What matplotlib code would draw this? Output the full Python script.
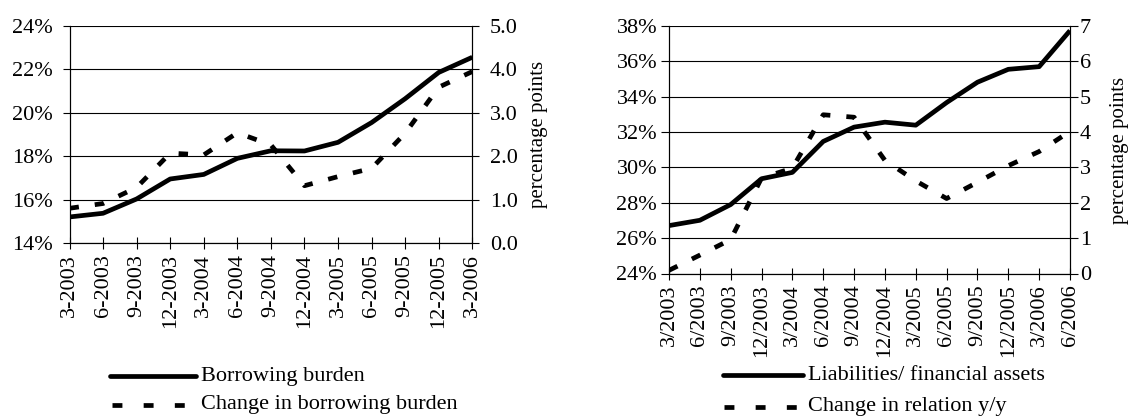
import matplotlib
matplotlib.use("Agg")
import matplotlib.pyplot as plt
from matplotlib.lines import Line2D
from matplotlib.ticker import FuncFormatter, MultipleLocator

plt.rcParams['font.family'] = ['Liberation Serif', 'DejaVu Serif']

# Left chart data
left_cats = ["3-2003", "6-2003", "9-2003", "12-2003", "3-2004", "6-2004", "9-2004",
             "12-2004", "3-2005", "6-2005", "9-2005", "12-2005", "3-2006"]
borrowing_burden = [15.2, 15.37, 16.03, 16.95, 17.16, 17.9, 18.25, 18.24, 18.64,
                    19.55, 20.65, 21.86, 22.56]
change_burden = [0.80, 0.91, 1.28, 2.07, 2.03, 2.54, 2.26, 1.32, 1.53, 1.72, 2.53,
                 3.59, 3.95]

# Right chart data
right_cats = ["3/2003", "6/2003", "9/2003", "12/2003", "3/2004", "6/2004", "9/2004",
              "12/2004", "3/2005", "6/2005", "9/2005", "12/2005", "3/2006", "6/2006"]
liab_assets = [26.71, 27.01, 27.9, 29.36, 29.72, 31.47, 32.28, 32.56, 32.39, 33.67,
               34.82, 35.55, 35.7, 37.74]
change_relation = [0.09, 0.52, 0.96, 2.7, 2.98, 4.49, 4.42, 3.2, 2.62, 2.12, 2.58,
                   3.05, 3.45, 4.02]

W, H = 1131, 418
fig = plt.figure(figsize=(W / 100, H / 100), dpi=100)

FS = 16
FS_LAB = 15
LW = 3.4
DASH = (0, (2.0, 3.4))
LEG_DASH = (0, (2.1, 4.5))


def box(x0, y0, x1, y1):
    return [x0 / W, 1 - y1 / H, (x1 - x0) / W, (y1 - y0) / H]


def setup(ax, ax2, cats, s1, s2, ylim1, ystep1, ylim2, ystep2, fmt2,
          padl, padr, tl):
    x = list(range(len(cats)))
    ax.set_xlim(0, len(cats) - 1)
    ax.set_ylim(*ylim1)
    ax.yaxis.set_major_locator(MultipleLocator(ystep1))
    ax.yaxis.set_major_formatter(FuncFormatter(lambda v, p: f"{v:.0f}%"))
    ax.grid(axis='y', color='black', linewidth=0.8)
    ax.set_axisbelow(True)
    ax.set_xticks(x)
    ax.set_xticklabels(cats, rotation=90, fontsize=FS)
    ax.tick_params(axis='x', direction='inout', length=8, width=0.8, pad=4)
    ax.tick_params(axis='y', direction='out', length=tl, width=0.8, labelsize=FS,
                   pad=padl)
    ax.spines['top'].set_visible(False)
    for s in ['left', 'bottom', 'right']:
        ax.spines[s].set_linewidth(0.8)
    ax.plot(x, s1, color='black', linewidth=LW, solid_capstyle='butt', zorder=3)
    ax2.set_ylim(*ylim2)
    ax2.yaxis.set_major_locator(MultipleLocator(ystep2))
    ax2.yaxis.set_major_formatter(FuncFormatter(fmt2))
    ax2.tick_params(axis='y', direction='out', length=tl, width=0.8, labelsize=FS,
                    pad=padr)
    ax2.spines['top'].set_visible(False)
    ax2.spines['right'].set_linewidth(0.8)
    ax2.plot(x, s2, color='black', linewidth=LW, linestyle=DASH,
             dash_capstyle='butt', zorder=3)


axL = fig.add_axes(box(69.5, 26, 472.3, 243))
axL2 = axL.twinx()
setup(axL, axL2, left_cats, borrowing_burden, change_burden,
      (14, 24), 2, (0, 5), 1, lambda v, p: f"{v:.1f}", 7.5, 8, 4.75)

axR = fig.add_axes(box(669, 26, 1070, 273.5))
axR2 = axR.twinx()
setup(axR, axR2, right_cats, liab_assets, change_relation,
      (24, 38), 2, (0, 7), 1, lambda v, p: f"{v:.0f}", 3, 1.5, 5.5)

fig.text(538 / W, 1 - 134.5 / H, "percentage points", rotation=90, fontsize=FS_LAB,
         ha='center', va='center')
fig.text(1119.5 / W, 1 - 150 / H, "percentage points", rotation=90, fontsize=FS_LAB,
         ha='center', va='center')


def legend_entry(x0, x1, y, label, dashed):
    ls = LEG_DASH if dashed else '-'
    fig.add_artist(Line2D([x0 / W, x1 / W], [1 - y / H, 1 - y / H], color='black',
                          linewidth=LW, linestyle=ls, dash_capstyle='butt',
                          solid_capstyle='round', transform=fig.transFigure))
    fig.text((x1 + 5) / W, 1 - y / H, label, fontsize=FS, va='center', ha='left')


legend_entry(110, 196, 376, "Borrowing burden", False)
legend_entry(112, 196, 405, "Change in borrowing burden", True)
legend_entry(723, 803, 375, "Liabilities/ financial assets", False)
legend_entry(724, 803, 407, "Change in relation y/y", True)

fig.savefig("out.png", dpi=100)
